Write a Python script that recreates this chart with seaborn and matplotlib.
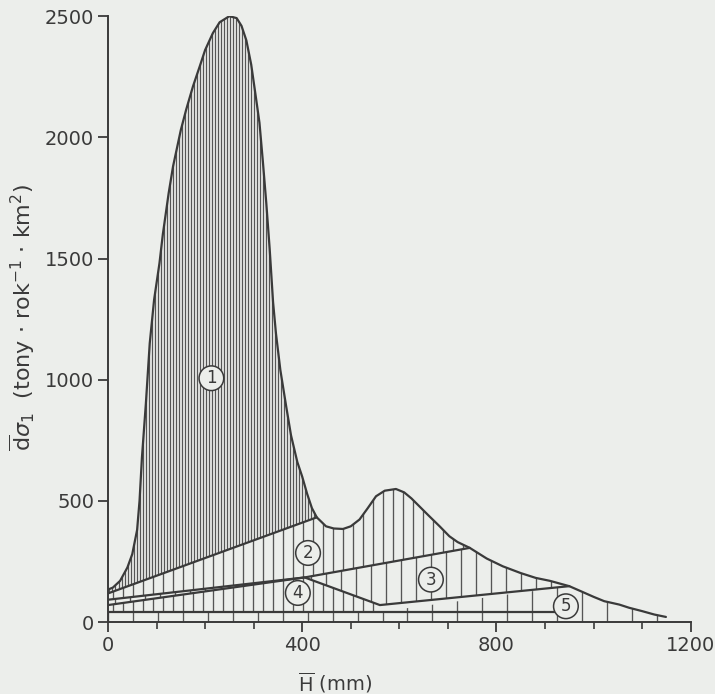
import numpy as np
import matplotlib
matplotlib.use("Agg")
import matplotlib.pyplot as plt
from matplotlib.patches import Polygon
from matplotlib.ticker import NullLocator
import seaborn as sns

# ---------------- data ----------------
# total sediment yield curve (upper envelope)
H_total = [0, 10, 25, 40, 50, 60, 65, 70, 78, 86, 95, 106, 113, 125, 134, 150, 161, 175,
           189, 200, 216, 230, 250, 265, 275, 285, 295, 305, 312, 319, 326, 333, 340, 346,
           355, 367, 377, 390, 400, 410, 420, 430, 449, 465, 484, 500, 518, 535, 552, 570,
           593, 610, 625, 641, 660, 683, 703, 720, 745, 780, 813, 850, 881, 910, 950, 974,
           1000, 1022, 1053, 1073, 1100, 1125, 1149]
V_total = [134, 142, 170, 225, 280, 380, 500, 680, 900, 1150, 1330, 1480, 1600, 1770, 1880,
           2030, 2114, 2210, 2293, 2360, 2430, 2475, 2500, 2492, 2460, 2400, 2300, 2160, 2060,
           1900, 1730, 1540, 1320, 1190, 1040, 890, 770, 660, 600, 530, 470, 432, 395, 386, 384,
           395, 423, 470, 519, 542, 549, 535, 510, 478, 440, 395, 354, 330, 306, 262, 230, 202,
           182, 170, 148, 127, 104, 86, 72, 59, 45, 31, 21]

# upper boundaries of the components
H_top2 = [0, 430]
V_top2 = [118, 432]
H_top3 = [0, 405, 745]
V_top3 = [92, 184, 306]
H_top45 = [0, 405, 560, 950]
V_top45 = [70, 184, 70, 148]
H_base5 = [0, 920]
V_base5 = [42, 42]

# circled component labels
comp_labels = ["1", "2", "3", "4", "5"]
label_H = [213, 412, 665, 391, 943]
label_V = [1006, 285, 175, 120, 65]

x_ticks = [0, 400, 800, 1200]
x_minor = [0, 100, 200, 300, 400, 500, 600, 700, 800, 900, 1000, 1100, 1200]
y_ticks = [0, 500, 1000, 1500, 2000, 2500]

# ---------------- styling ----------------
sns.set_theme(style="ticks")
plt.rcParams["font.family"] = ["DejaVu Sans"]
bg = "#eceeeb"
ink = "#3a3a3a"
hatch_c = "#555555"

fig = plt.figure(figsize=(7.15, 6.94), dpi=100, facecolor=bg)
ax = fig.add_axes([0.151, 0.1037, 0.815, 0.873])
ax.set_facecolor(bg)
ax.set_xlim(0, 1200)
ax.set_ylim(0, 2500)

Ht = np.array(H_total, float)
Vt = np.array(V_total, float)


def seg(h0, h1):
    m = (Ht >= h0) & (Ht <= h1)
    return list(zip(Ht[m], Vt[m]))


top2 = list(zip(H_top2, V_top2))
top3 = list(zip(H_top3, V_top3))
top45 = list(zip(H_top45, V_top45))
base = V_base5[0]

poly1 = seg(0, 430) + top2[::-1]
poly2 = top2 + seg(430, 745)[1:] + top3[::-1]
poly3 = top3 + seg(745, 950)[1:] + top45[::-1]
poly4 = [p for p in top45 if p[0] <= 560] + [(560, base), (0, base)]
poly5 = ([(0, 0), (0, base), (560, base)] + [p for p in top45 if p[0] > 560]
         + seg(950, 1200)[1:] + [(Ht[-1], 0)])

# spacing of vertical hatch lines (mm on x axis), line width
polys = [(poly1, 6.2, 0.9), (poly2, 20.6, 0.95), (poly3, 30.9, 0.95),
         (poly4, 20.6, 0.95), (poly5, 51.4, 0.95)]
for verts, step, lw in polys:
    p = Polygon(verts, closed=True, fc="none", ec="none")
    ax.add_patch(p)
    xs = np.arange(step / 2 if step < 50 else 0, 1200, step)
    lc = ax.vlines(xs, 0, 2600, colors=hatch_c, lw=lw)
    lc.set_clip_path(p)

# outlines
for hx, vy in [(H_total, V_total), (H_top2, V_top2), (H_top3, V_top3),
               (H_top45, V_top45), (H_base5, V_base5)]:
    sns.lineplot(x=hx, y=vy, ax=ax, color=ink, lw=1.6, estimator=None, sort=False)

# circled labels
for t, hx, vy in zip(comp_labels, label_H, label_V):
    ax.text(hx, vy, t, ha="center", va="center", fontsize=12, color=ink,
            bbox=dict(boxstyle="circle,pad=0.2", fc=bg, ec=ink, lw=1.1), zorder=5)

# axes
sns.despine(ax=ax)
for s in ("left", "bottom"):
    ax.spines[s].set_color(ink)
    ax.spines[s].set_linewidth(1.4)
ax.set_xticks(x_ticks)
ax.set_xticks(x_minor, minor=True)
ax.set_yticks(y_ticks)
ax.yaxis.set_minor_locator(NullLocator())
ax.tick_params(which="major", direction="out", length=7, width=1.3, color=ink,
               labelsize=14, labelcolor=ink, pad=3)
ax.tick_params(which="minor", direction="out", length=5, width=1.2, color=ink)
ax.set_xlabel("")
ax.set_ylabel("")

fig.text(0.469, 0.016, r"$\overline{\mathrm{H}}$ (mm)", ha="center", va="center",
         fontsize=14, color=ink)
fig.text(0.031, 0.542,
         r"$\overline{\mathrm{d}}\sigma_{1}$  (tony $\cdot$ rok$^{-1}$ $\cdot$ km$^{2}$)",
         rotation=90, ha="center", va="center", fontsize=16, color=ink)

fig.savefig("out.png", dpi=100, facecolor=bg)
